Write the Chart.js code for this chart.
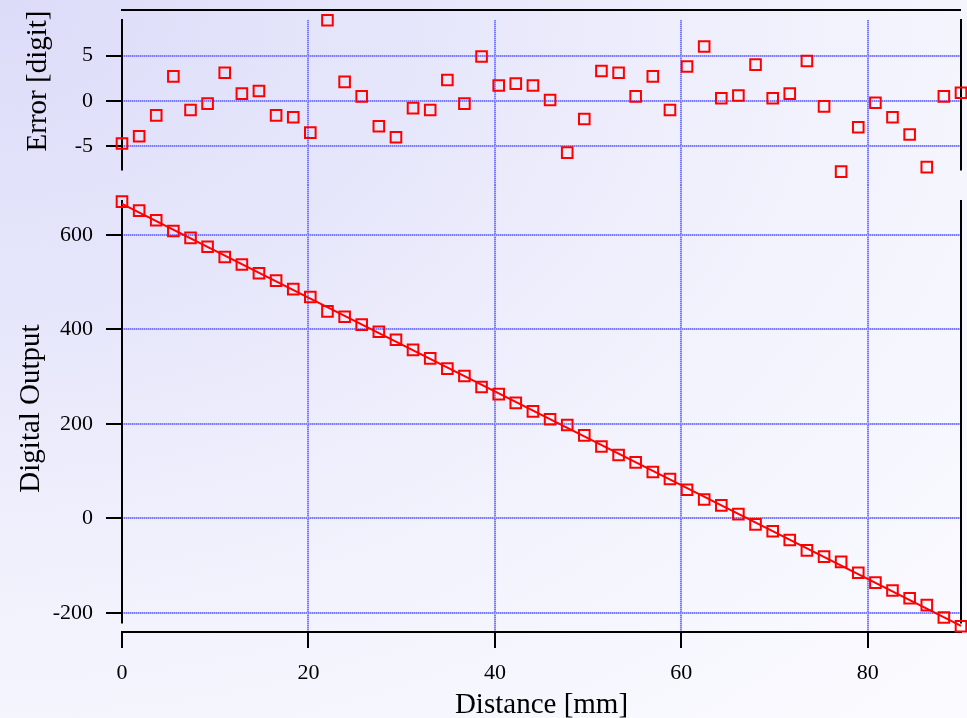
<!DOCTYPE html>
<html>
<head>
<meta charset="utf-8">
<script src="https://cdn.jsdelivr.net/npm/chart.js@4/dist/chart.umd.min.js"></script>
<style>
  html, body { margin: 0; padding: 0; overflow: hidden; }
  #plot {
    position: relative; width: 967px; height: 718px;
    background: radial-gradient(ellipse farthest-corner at 0 0, #dcdcf9 0%, #e6e6fb 30%, #f2f2fd 60%, #fbfbff 100%);
  }
  #plot canvas { position: absolute; left: 0; }
  #errorChart { top: 0; }
  #outputChart { top: 185px; }
</style>
</head>
<body>
<div id="plot">
  <canvas id="errorChart" width="967" height="185"></canvas>
  <canvas id="outputChart" width="967" height="533"></canvas>
</div>
<script>
// distance of each measurement [mm]
const distance = [0, 1.84, 3.67, 5.51, 7.35, 9.18, 11.02, 12.86, 14.69, 16.53,
    18.37, 20.20, 22.04, 23.88, 25.71, 27.55, 29.39, 31.22, 33.06, 34.90,
    36.73, 38.57, 40.41, 42.24, 44.08, 45.92, 47.76, 49.59, 51.43, 53.27,
    55.10, 56.94, 58.78, 60.61, 62.45, 64.29, 66.12, 67.96, 69.80, 71.63,
    73.47, 75.31, 77.14, 78.98, 80.82, 82.65, 84.49, 86.33, 88.16, 90.00];

// fit minus measurement [digit]
const errorDigits = [-4.7, -3.9, -1.6, 2.7, -1.0, -0.3, 3.1, 0.8, 1.1, -1.6,
    -1.8, -3.5, 8.9, 2.1, 0.5, -2.8, -4.0, -0.8, -1.0, 2.3,
    -0.3, 4.9, 1.7, 1.9, 1.7, 0.1, -5.7, -2.0, 3.3, 3.1,
    0.5, 2.7, -1.0, 3.8, 6.0, 0.3, 0.6, 4.0, 0.3, 0.8,
    4.4, -0.6, -7.8, -2.9, -0.2, -1.8, -3.7, -7.3, 0.5, 0.9];

// measured output
const outputDigits = [670.2, 651.2, 630.7, 608.1, 593.6, 574.7, 553.1, 537.1, 518.6, 503.1,
    485.1, 468.5, 437.9, 426.5, 409.9, 394.9, 377.9, 356.5, 338.5, 316.9,
    301.3, 277.9, 262.9, 244.4, 226.4, 209.8, 197.4, 175.5, 151.9, 133.9,
    118.3, 97.9, 83.3, 60.3, 39.9, 27.4, 8.8, -12.8, -27.3, -46.0,
    -67.9, -81.1, -92.1, -115.2, -136.2, -152.8, -169.1, -183.7, -209.8, -228.4];

// linear fit
const fitDistance = [0, 90];
const fitOutput = [665.5, -227.5];

const distanceTicks = [0, 20, 40, 60, 80];
const errorTicks = [-5, 0, 5];
const outputTicks = [-200, 0, 200, 400, 600];

Chart.defaults.font.family = "'Liberation Serif', 'Times New Roman', serif";
Chart.defaults.color = '#000';

// dotted blue grid: 1px stripes of two blues
function stripes(vertical) {
    const c = document.createElement('canvas');
    c.width = 2; c.height = 2;
    const g = c.getContext('2d');
    g.fillStyle = '#b3b3ff';
    g.fillRect(0, 0, 2, 2);
    g.fillStyle = '#7a7aff';
    if (vertical) g.fillRect(0, 0, 2, 1); else g.fillRect(0, 0, 1, 2);
    return g.createPattern(c, 'repeat');
}
const gridV = stripes(true);
const gridH = stripes(false);

function toPoints(xs, ys) {
    const pts = [];
    for (let i = 0; i < xs.length; i++) {
        pts.push({x: xs[i], y: ys[i]});
    }
    return pts;
}

// left / right axis lines that only cover part of the y range
function axisLines(lo, hi, topGap) {
    return {
        id: 'axisLines',
        beforeDatasetsDraw(chart) {
            const ctx = chart.ctx;
            const area = chart.chartArea;
            const y = chart.scales.y;
            const y1 = y.getPixelForValue(hi);
            const y2 = y.getPixelForValue(lo);
            ctx.save();
            ctx.strokeStyle = '#000';
            ctx.lineWidth = 2;
            ctx.beginPath();
            ctx.moveTo(area.left, y1);
            ctx.lineTo(area.left, y2);
            ctx.moveTo(area.right, y1);
            ctx.lineTo(area.right, y2);
            if (topGap) {
                ctx.moveTo(area.left - 1, area.top - topGap);
                ctx.lineTo(area.right, area.top - topGap);
            }
            ctx.stroke();
            ctx.restore();
        }
    };
}

const errorTitle = {
    id: 'errorTitle',
    afterDraw(chart) {
        const ctx = chart.ctx;
        ctx.save();
        ctx.translate(38, 81);
        ctx.rotate(-Math.PI / 2);
        ctx.font = "29px 'Liberation Serif', 'Times New Roman', serif";
        ctx.fillStyle = '#000';
        ctx.textAlign = 'center';
        ctx.textBaseline = 'middle';
        ctx.fillText('Error [digit]', 0, 0);
        ctx.restore();
    }
};

function xGridColor(ctx) {
    return ctx.tick && ctx.tick.value === 0 ? 'rgba(0,0,0,0)' : gridV;
}

function fitY(s) {
    s.width = 122;
    s.paddingTop = 0;
    s.paddingBottom = 0;
}

const markerStyle = {
    pointStyle: 'rect',
    pointRadius: 7.5,
    pointBorderWidth: 2,
    pointBorderColor: '#ff0000',
    pointBackgroundColor: 'rgba(0,0,0,0)',
    showLine: false,
    clip: false
};

new Chart(document.getElementById('errorChart'), {
    type: 'scatter',
    data: {
        datasets: [Object.assign({
            label: 'Error',
            data: toPoints(distance, errorDigits)
        }, markerStyle)]
    },
    options: {
        responsive: false,
        animation: false,
        layout: {autoPadding: false, padding: {top: 20, right: 6, left: 0, bottom: 0}},
        plugins: {legend: {display: false}, tooltip: {enabled: false}},
        scales: {
            x: {
                type: 'linear', min: 0, max: 90,
                afterBuildTicks: s => { s.ticks = distanceTicks.map(v => ({value: v})); },
                afterFit: s => { s.height = 0; s.paddingLeft = 0; s.paddingRight = 0; },
                ticks: {display: false},
                grid: {color: xGridColor, lineWidth: 2, drawTicks: false},
                border: {display: false}
            },
            y: {
                min: -9.27, max: 8.92,
                afterBuildTicks: s => { s.ticks = errorTicks.map(v => ({value: v})); },
                afterFit: fitY,
                ticks: {font: {size: 22}, padding: 13, callback: v => String(v)},
                grid: {color: gridH, lineWidth: 2, tickLength: 16, tickColor: '#000', tickWidth: 2},
                border: {display: false}
            }
        }
    },
    plugins: [axisLines(-7.67, 9.03, 10), errorTitle]
});

new Chart(document.getElementById('outputChart'), {
    type: 'scatter',
    data: {
        datasets: [
            Object.assign({
                label: 'Digital Output',
                data: toPoints(distance, outputDigits)
            }, markerStyle),
            {
                label: 'Fit',
                data: toPoints(fitDistance, fitOutput),
                showLine: true,
                borderColor: '#ff0000',
                borderWidth: 2,
                pointRadius: 0,
                clip: false
            }
        ]
    },
    options: {
        responsive: false,
        animation: false,
        layout: {autoPadding: false, padding: {top: 0, right: 6, left: 0, bottom: 0}},
        plugins: {legend: {display: false}, tooltip: {enabled: false}},
        scales: {
            x: {
                type: 'linear', min: 0, max: 90,
                afterBuildTicks: s => { s.ticks = distanceTicks.map(v => ({value: v})); },
                afterFit: s => { s.height = 86; s.paddingLeft = 0; s.paddingRight = 0; },
                ticks: {font: {size: 22}, padding: 12, maxRotation: 0},
                grid: {color: xGridColor, lineWidth: 2, tickLength: 16, tickColor: '#000', tickWidth: 2},
                border: {display: true, color: '#000', width: 2},
                title: {display: true, text: 'Distance [mm]', font: {size: 29}, padding: {top: 0, bottom: -5}}
            },
            y: {
                min: -240.6, max: 705.4,
                afterBuildTicks: s => { s.ticks = outputTicks.map(v => ({value: v})); },
                afterFit: fitY,
                ticks: {font: {size: 22}, padding: 13, callback: v => String(v)},
                grid: {color: gridH, lineWidth: 2, tickLength: 16, tickColor: '#000', tickWidth: 2},
                border: {display: false},
                title: {display: true, text: 'Digital Output', font: {size: 29}, padding: {top: 14, bottom: 0}}
            }
        }
    },
    plugins: [axisLines(-222.6, 673.7, 0)]
});
</script>
</body>
</html>
